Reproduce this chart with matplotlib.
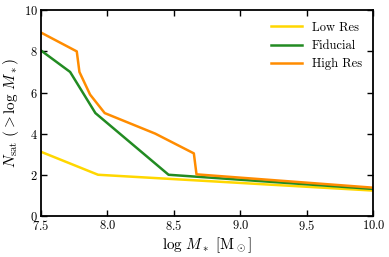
import matplotlib
matplotlib.use('Agg')
import matplotlib.pyplot as plt

plt.rcParams['font.family'] = 'cmr10'
plt.rcParams['mathtext.fontset'] = 'cm'
plt.rcParams['axes.formatter.use_mathtext'] = True

# кумулятивное число спутников для трёх разрешений
low_x = [7.5, 7.93, 10.0]
low_y = [3.12, 2.0, 1.23]

fid_x = [7.5, 7.72, 7.91, 8.46, 10.0]
fid_y = [8.05, 7.0, 5.0, 2.0, 1.31]

high_x = [7.5, 7.77, 7.79, 7.87, 7.98, 8.36, 8.65, 8.67, 10.0]
high_y = [8.92, 8.0, 7.0, 5.9, 5.0, 4.0, 3.04, 2.02, 1.37]

fig, ax = plt.subplots(figsize=(3.89, 2.57), dpi=100)

ax.plot(low_x, low_y, color='#FFD700', lw=1.8, label='Low Res')
ax.plot(fid_x, fid_y, color='#228B22', lw=1.8, label='Fiducial')
ax.plot(high_x, high_y, color='#FF8C00', lw=1.8, label='High Res')

ax.set_xlim(7.5, 10.0)
ax.set_ylim(0, 10)
ax.set_xticks([7.5, 8.0, 8.5, 9.0, 9.5, 10.0])
ax.set_yticks([0, 2, 4, 6, 8, 10])
ax.tick_params(direction='in', top=True, right=True, labelsize=9, length=4, width=1, pad=2)
for s in ax.spines.values():
    s.set_linewidth(1.3)

ax.set_xlabel(r'$\log\,M_*\ [{\rm M}_\odot]$', fontsize=11, labelpad=2)
ax.set_ylabel(r'$N_{\rm sat}\ (>\log\,M_*)$', fontsize=11, labelpad=2)

ax.legend(loc='upper right', frameon=False, fontsize=9, handlelength=2.5)

plt.subplots_adjust(left=0.105, right=0.96, top=0.96, bottom=0.16)
plt.savefig('out.png', dpi=100)
